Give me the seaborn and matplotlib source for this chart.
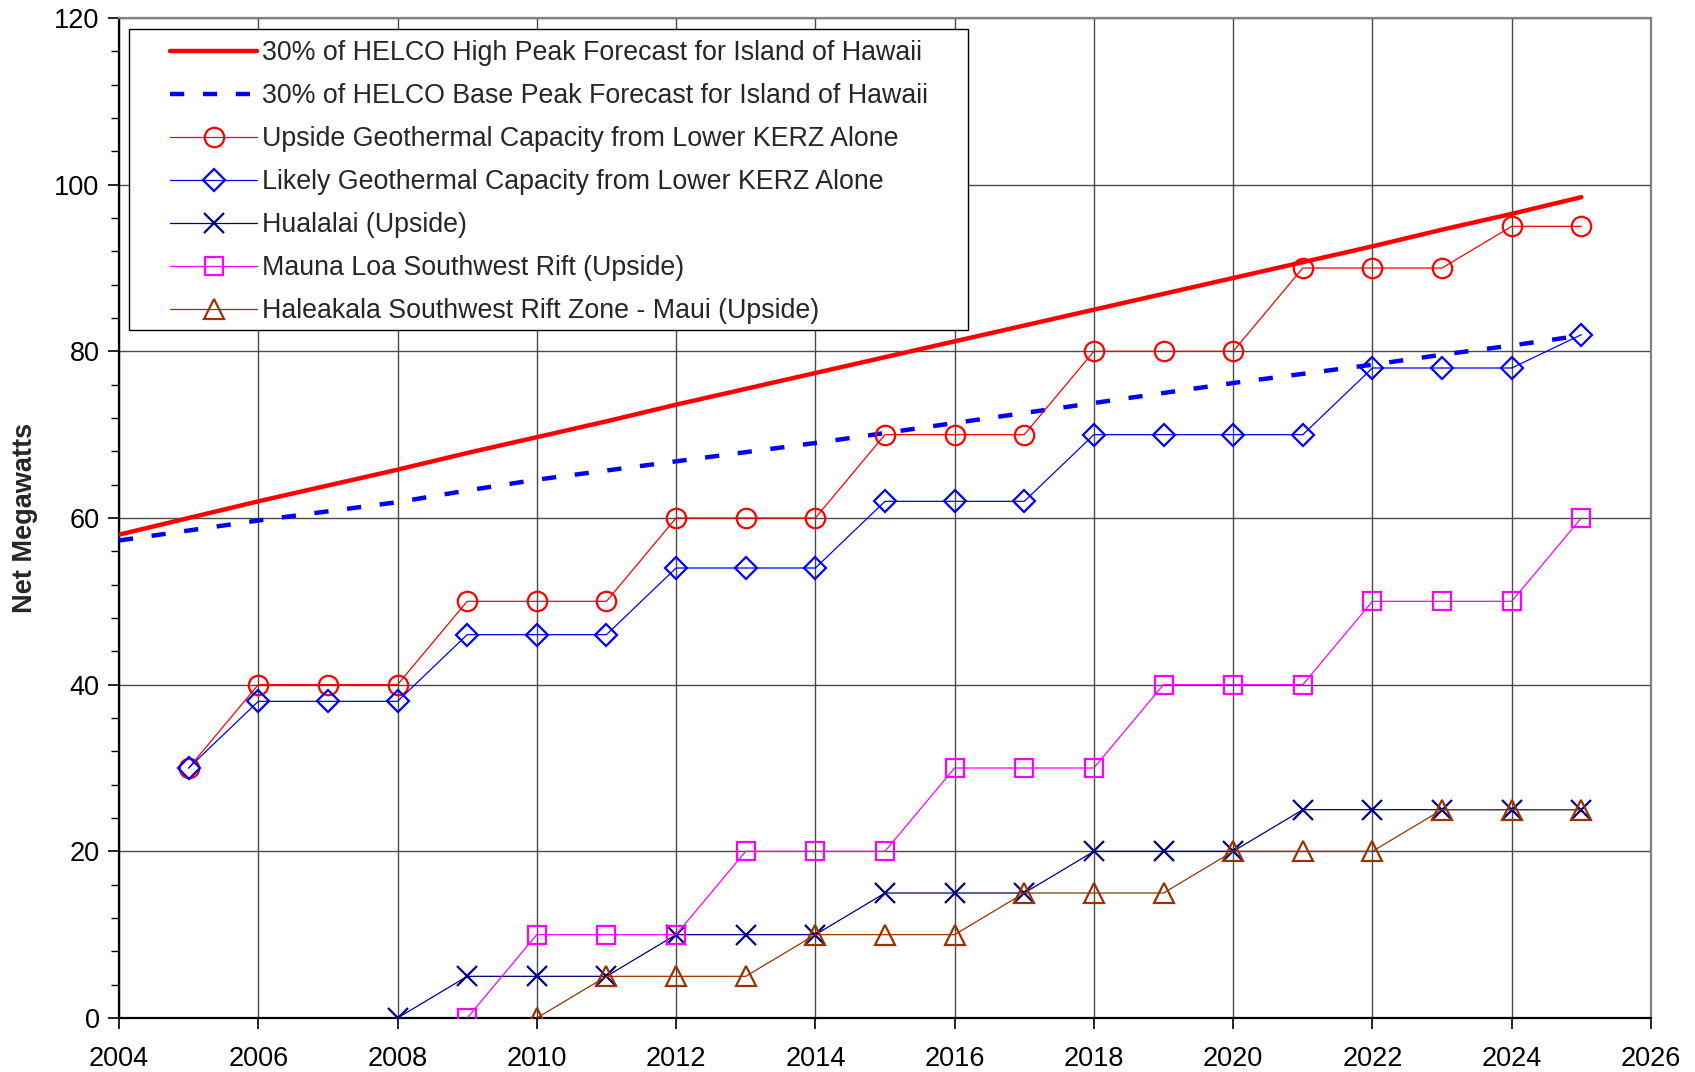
import matplotlib
matplotlib.use("Agg")
import matplotlib.pyplot as plt
import seaborn as sns
import pandas as pd
from matplotlib.ticker import MultipleLocator
from matplotlib.patches import Rectangle

# ---------------- data ----------------
forecast_years = list(range(2004, 2026))
high_forecast = [58.0, 60.0, 62.0, 63.9, 65.8, 67.8, 69.7, 71.6, 73.6, 75.5, 77.4,
                 79.3, 81.2, 83.1, 85.0, 86.9, 88.8, 90.7, 92.6, 94.6, 96.5, 98.5]
base_forecast = [57.3, 58.5, 59.7, 60.8, 61.9, 63.3, 64.6, 65.7, 66.8, 67.9, 69.0,
                 70.2, 71.4, 72.6, 73.8, 75.0, 76.2, 77.3, 78.4, 79.6, 80.7, 81.9]

kerz_years = list(range(2005, 2026))
upside_kerz = [30, 40, 40, 40, 50, 50, 50, 60, 60, 60, 70, 70, 70, 80, 80, 80, 90, 90, 90, 95, 95]
likely_kerz = [30, 38, 38, 38, 46, 46, 46, 54, 54, 54, 62, 62, 62, 70, 70, 70, 70, 78, 78, 78, 82]

hualalai_years = list(range(2008, 2026))
hualalai = [0, 5, 5, 5, 10, 10, 10, 15, 15, 15, 20, 20, 20, 25, 25, 25, 25, 25]

maunaloa_years = list(range(2009, 2026))
maunaloa = [0, 10, 10, 10, 20, 20, 20, 30, 30, 30, 40, 40, 40, 50, 50, 50, 60]

haleakala_years = list(range(2010, 2026))
haleakala = [0, 5, 5, 5, 10, 10, 10, 15, 15, 15, 20, 20, 20, 25, 25, 25]

labels = [
    "30% of HELCO High Peak Forecast for Island of Hawaii",
    "30% of HELCO Base Peak Forecast for Island of Hawaii",
    "Upside Geothermal Capacity from Lower KERZ Alone",
    "Likely Geothermal Capacity from Lower KERZ Alone",
    "Hualalai (Upside)",
    "Mauna Loa Southwest Rift (Upside)",
    "Haleakala Southwest Rift Zone - Maui (Upside)",
]

x_ticks = list(range(2004, 2027, 2))
y_ticks = list(range(0, 121, 20))

# ---------------- style ----------------
sns.set_style("white")
plt.rcParams["font.family"] = ["Liberation Sans", "DejaVu Sans"]
FS = 19.5
LFS = 19.3

fig = plt.figure(figsize=(16.95, 10.72), dpi=100)
ax = fig.add_axes([119 / 1695, 1 - 1018 / 1072, 1532 / 1695, 1000 / 1072])

def df(x, y):
    return pd.DataFrame({"year": x, "value": y})

sns.lineplot(data=df(forecast_years, high_forecast), x="year", y="value", ax=ax,
             color="#FF0000", lw=3.2, label=labels[0], zorder=3)
sns.lineplot(data=df(forecast_years, base_forecast), x="year", y="value", ax=ax,
             color="#0000FF", lw=3.2, linestyle=(0, (3.2, 4.2)), label=labels[1], zorder=3)

mk = dict(markerfacecolor="none", markeredgewidth=1.6, lw=0.9)
sns.lineplot(data=df(kerz_years, upside_kerz), x="year", y="value", ax=ax,
             color="#FF0000", marker="o", markersize=14, markeredgecolor="#FF0000",
             label=labels[2], zorder=4, **mk)
sns.lineplot(data=df(kerz_years, likely_kerz), x="year", y="value", ax=ax,
             color="#0000FF", marker="D", markersize=11.5, markeredgecolor="#0000FF",
             label=labels[3], zorder=4, **mk)
sns.lineplot(data=df(hualalai_years, hualalai), x="year", y="value", ax=ax,
             color="#000080", marker="x", markersize=14, markeredgecolor="#000080",
             label=labels[4], zorder=4, **mk)
sns.lineplot(data=df(maunaloa_years, maunaloa), x="year", y="value", ax=ax,
             color="#FF00FF", marker="s", markersize=13.5, markeredgecolor="#FF00FF",
             label=labels[5], zorder=4, **mk)
sns.lineplot(data=df(haleakala_years, haleakala), x="year", y="value", ax=ax,
             color="#993300", marker="^", markersize=14, markeredgecolor="#993300",
             label=labels[6], zorder=4, **mk)

ax.set_xlim(2004, 2026)
ax.set_ylim(0, 120)
ax.set_xticks(x_ticks)
ax.set_xticklabels([str(t) for t in x_ticks])
ax.set_yticks(y_ticks)
ax.yaxis.set_minor_locator(MultipleLocator(4))
ax.grid(True, which="major", color="#4a4a4a", lw=1.0)
ax.set_axisbelow(True)

ax.tick_params(axis="both", which="major", direction="out", length=8, width=1.2,
               labelsize=FS, colors="black")
ax.tick_params(axis="x", which="major", pad=12)
ax.tick_params(axis="y", which="major", pad=6)
ax.tick_params(axis="y", which="minor", direction="out", length=6, width=1.0,
               left=True, colors="black")
ax.tick_params(axis="x", which="minor", bottom=False)
ax.tick_params(left=True, bottom=True)

for s in ["left", "bottom"]:
    ax.spines[s].set_color("black")
    ax.spines[s].set_linewidth(1.6)
for s in ["top", "right"]:
    ax.spines[s].set_color("#808080")
    ax.spines[s].set_linewidth(1.6)

ax.set_xlabel("")
ax.set_ylabel("Net Megawatts", fontsize=FS, fontweight="bold")
ax.yaxis.set_label_coords(-0.053, 0.5)

# legend frame (Excel-style box with generous padding)
box = Rectangle((0.0065, 0.688), 0.554 - 0.0065, 0.989 - 0.688, transform=ax.transAxes,
                facecolor="white", edgecolor="black", lw=1.0, zorder=4.9)
ax.add_patch(box)

leg = ax.legend(loc="upper left", bbox_to_anchor=(0.0333, 0.978), borderaxespad=0,
                frameon=False, fontsize=LFS, handlelength=3.26, handletextpad=0.16,
                labelspacing=0.635, borderpad=0)
leg.set_zorder(5)

fig.savefig("out.png", dpi=100)
